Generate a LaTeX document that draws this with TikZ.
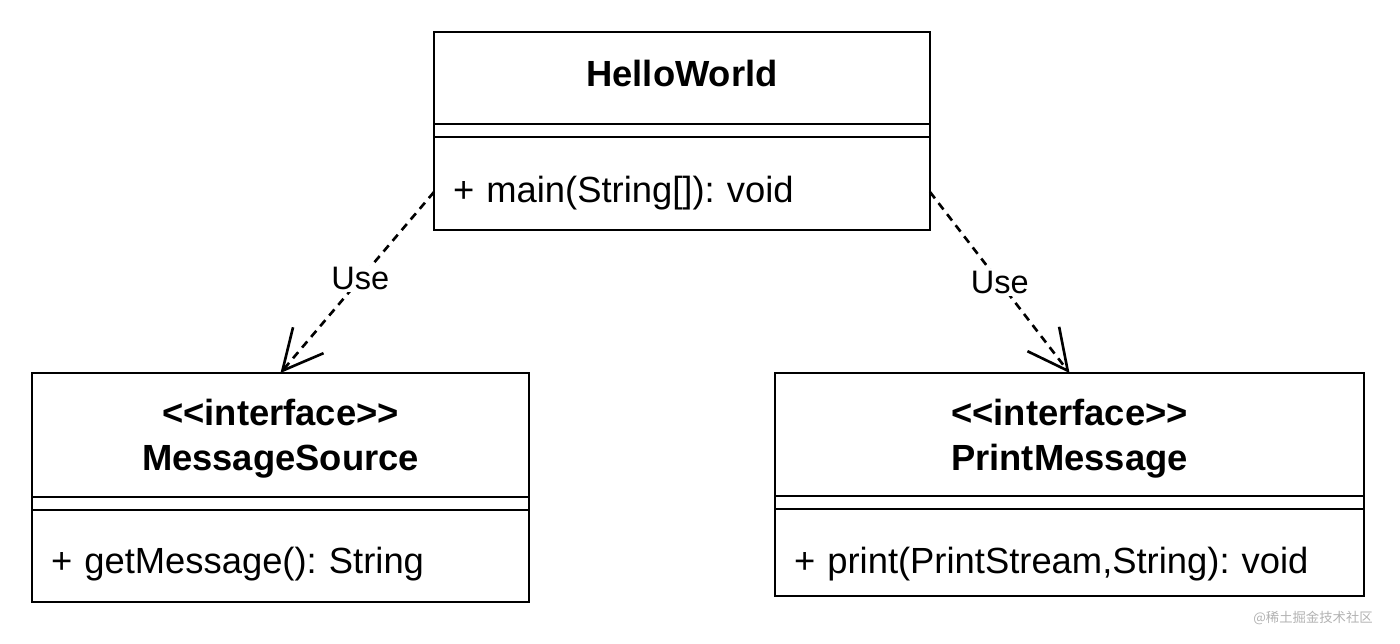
\documentclass[tikz,border=0pt]{standalone}
\usepackage{fontspec}
\setmainfont{Liberation Sans}[Ligatures=TeXOff]
\newfontfamily\cjk{Noto Sans CJK SC}
\usetikzlibrary{positioning, arrows.meta}
\frenchspacing

\begin{document}
\begin{tikzpicture}[
    umlhead/.style={draw, line width=1.5pt, outer sep=0pt, align=center,
        font=\fontsize{20.7}{25.6}\selectfont\bfseries},
    umlsep/.style={draw, line width=1.5pt, outer sep=0pt, inner sep=0pt, minimum height=0.26cm},
    umlops/.style={draw, line width=1.5pt, outer sep=0pt, inner xsep=0.38cm, inner ysep=0pt,
        align=left, text depth=0.16cm, font=\fontsize{20.7}{25.6}\selectfont},
    uses/.style={dash pattern=on 0.16cm off 0.12cm, line width=1.5pt,
        -{Straight Barb[length=0.8cm, width=0.8cm, line width=1.5pt]}},
    uselabel/.style={font=\fontsize{18.5}{22}\selectfont, fill=white, inner sep=1pt}
]
    \useasboundingbox (0,0) rectangle (28,-12.88);

    % HelloWorld class
    \node[umlhead, minimum width=9.92cm, minimum height=1.84cm, text height=0.52cm, text depth=0.16cm]
        (hw) at (13.64,-1.56) {HelloWorld};
    \node[umlsep, minimum width=9.92cm, below=0pt of hw] (hwsep) {};
    \node[umlops, text width=9.16cm, minimum height=1.86cm, text height=0.94cm, below=0pt of hwsep]
        (hwops) {+ main(String[]): void};

    % MessageSource interface
    \node[umlhead, minimum width=9.94cm, minimum height=2.48cm, text depth=0pt]
        (ms) at (5.61,-8.70) {<<interface>>\\MessageSource};
    \node[umlsep, minimum width=9.94cm, below=0pt of ms] (mssep) {};
    \node[umlops, text width=9.18cm, minimum height=1.84cm, text height=0.84cm, below=0pt of mssep]
        (msops) {+ getMessage(): String};

    % PrintMessage interface
    \node[umlhead, minimum width=11.78cm, minimum height=2.46cm, text depth=0pt]
        (pm) at (21.39,-8.69) {<<interface>>\\PrintMessage};
    \node[umlsep, minimum width=11.78cm, below=0pt of pm] (pmsep) {};
    \node[umlops, text width=11.02cm, minimum height=1.74cm, text height=0.98cm, below=0pt of pmsep]
        (pmops) {+ print(PrintStream,String): void};

    % dependencies
    \draw[uses] ([yshift=-0.17cm]hwops.west) -- node[uselabel, pos=0.48] (use1) {Use} (ms.north);
    \draw[uses] ([yshift=-0.17cm]hwops.east) -- node[uselabel, pos=0.5] (use2) {Use} (pm.north);

    \node[font=\cjk\fontsize{7.6}{9}\selectfont, text=gray!60] (mark) at (26.26,-12.36) {@稀土掘金技术社区};
\end{tikzpicture}
\end{document}
